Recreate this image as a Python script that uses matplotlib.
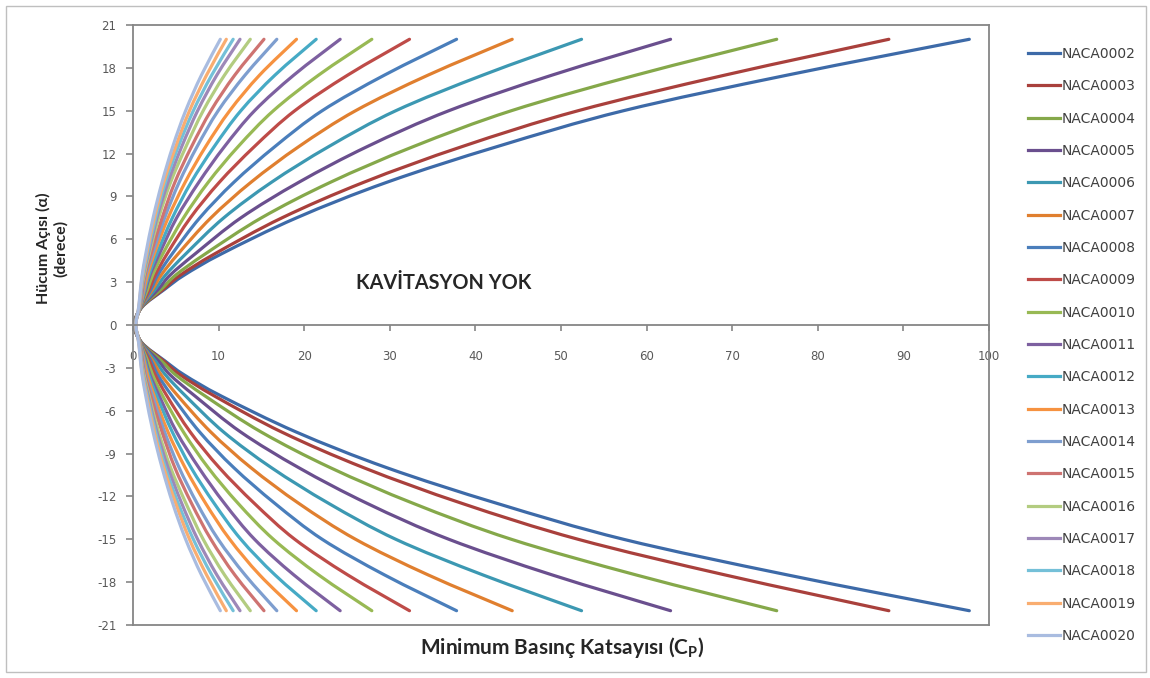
import numpy as np
import matplotlib.pyplot as plt
from matplotlib.lines import Line2D
from matplotlib.patches import PathPatch, Rectangle
from matplotlib.path import Path

plt.rcParams['axes.unicode_minus'] = False

# angle of attack levels (deg); curves are symmetric about alpha = 0
alpha = [0, 1.25, 2.5, 3.5, 5, 7.5, 10, 12.5, 15, 17.5, 20]

# minimum pressure coefficient at each alpha level
naca0002 = [0.15, 1.05, 3.7, 6.0, 10.4, 19.1, 29.7, 42.6, 57.3, 76.5, 97.7]
naca0003 = [0.16, 1.03, 3.55, 5.55, 9.6, 17.4, 27.0, 38.5, 52.0, 69.2, 88.3]
naca0004 = [0.17, 1.01, 3.3, 5.0, 8.5, 15.0, 23.1, 32.8, 44.2, 58.8, 75.2]
naca0005 = [0.18, 0.98, 2.95, 4.35, 7.3, 12.6, 19.4, 27.4, 36.9, 49.0, 62.8]
naca0006 = [0.19, 0.96, 2.6, 3.8, 6.2, 10.6, 16.2, 22.9, 30.7, 40.9, 52.4]
naca0007 = [0.20, 0.94, 2.3, 3.3, 5.3, 9.1, 13.8, 19.4, 26.0, 34.5, 44.3]
naca0008 = [0.21, 0.92, 2.1, 2.9, 4.6, 7.8, 11.8, 16.6, 22.1, 29.4, 37.8]
naca0009 = [0.22, 0.90, 1.9, 2.6, 4.0, 6.7, 10.1, 14.2, 18.9, 25.1, 32.3]
naca0010 = [0.23, 0.88, 1.7, 2.3, 3.5, 5.9, 8.8, 12.3, 16.4, 21.7, 27.9]
naca0011 = [0.25, 0.86, 1.5, 2.0, 3.1, 5.1, 7.7, 10.7, 14.2, 18.8, 24.2]
naca0012 = [0.26, 0.84, 1.4, 1.85, 2.8, 4.6, 6.8, 9.5, 12.6, 16.6, 21.4]
naca0013 = [0.27, 0.82, 1.3, 1.7, 2.5, 4.1, 6.1, 8.5, 11.3, 14.8, 19.1]
naca0014 = [0.28, 0.80, 1.2, 1.5, 2.3, 3.7, 5.4, 7.5, 9.95, 13.1, 16.8]
naca0015 = [0.29, 0.78, 1.1, 1.4, 2.1, 3.4, 4.9, 6.85, 9.1, 11.9, 15.3]
naca0016 = [0.30, 0.76, 1.0, 1.3, 1.9, 3.0, 4.4, 6.2, 8.2, 10.7, 13.7]
naca0017 = [0.31, 0.73, 0.97, 1.2, 1.8, 2.8, 4.1, 5.7, 7.55, 9.8, 12.5]
naca0018 = [0.32, 0.71, 0.94, 1.17, 1.7, 2.65, 3.8, 5.3, 7.05, 9.2, 11.7]
naca0019 = [0.34, 0.68, 0.90, 1.12, 1.6, 2.5, 3.6, 5.0, 6.6, 8.6, 10.9]
naca0020 = [0.35, 0.66, 0.87, 1.07, 1.5, 2.35, 3.4, 4.65, 6.15, 8.0, 10.2]

names = ['NACA0002', 'NACA0003', 'NACA0004', 'NACA0005', 'NACA0006',
         'NACA0007', 'NACA0008', 'NACA0009', 'NACA0010', 'NACA0011',
         'NACA0012', 'NACA0013', 'NACA0014', 'NACA0015', 'NACA0016',
         'NACA0017', 'NACA0018', 'NACA0019', 'NACA0020']
curves = [naca0002, naca0003, naca0004, naca0005, naca0006, naca0007,
          naca0008, naca0009, naca0010, naca0011, naca0012, naca0013,
          naca0014, naca0015, naca0016, naca0017, naca0018, naca0019,
          naca0020]
colors = ['#3D6AA8', '#A9403C', '#85A84A', '#6A4F8E', '#3C98B2', '#E07F2F',
          '#4A7EBB', '#BE4B48', '#98B954', '#7D60A0', '#46AAC5', '#F69240',
          '#7E9ECF', '#CE7371', '#B3CC80', '#9D88B8', '#74C0D8', '#F9AD70',
          '#A9BCE0']


def smooth_path(x, y):
    # smoothed line through the points (Catmull-Rom as cubic Bezier)
    pts = np.column_stack([x, y])
    n = len(pts)
    verts = [pts[0]]
    codes = [Path.MOVETO]
    for i in range(n - 1):
        p0 = pts[max(i - 1, 0)]
        p1 = pts[i]
        p2 = pts[i + 1]
        p3 = pts[min(i + 2, n - 1)]
        verts += [p1 + (p2 - p0) / 6, p2 - (p3 - p1) / 6, p2]
        codes += [Path.CURVE4] * 3
    return Path(verts, codes)


W, H = 1150, 678
fig = plt.figure(figsize=(W / 100, H / 100), dpi=100)
ax = fig.add_axes([133 / W, 1 - 625 / H, (989 - 133) / W, (625 - 25) / H])

handles = []
for name, cp, col in zip(names, curves, colors):
    x = cp[::-1] + cp[1:]
    y = [-a for a in alpha[::-1]] + alpha[1:]
    ax.add_patch(PathPatch(smooth_path(x, y), fill=False, edgecolor=col,
                           lw=2.3, capstyle='round', joinstyle='round'))
    handles.append(Line2D([], [], color=col, lw=2.3, label=name))

ax.set_xlim(0, 100)
ax.set_ylim(-21, 21)
ax.set_xticks(range(0, 101, 10))
ax.set_yticks(range(-21, 22, 3))

frame = '#868686'
for s in ['top', 'right', 'left', 'bottom']:
    ax.spines[s].set_color(frame)
    ax.spines[s].set_linewidth(1.3)
# x axis crosses at alpha = 0, keep the plot area border at the bottom
ax.spines['bottom'].set_position(('data', 0))
ax.axhline(-21, color=frame, lw=1.3, clip_on=False)

ax.tick_params(axis='x', direction='out', length=4, width=1.2, color=frame,
               labelsize=8.5, labelcolor='#595959', pad=14)
ax.tick_params(axis='y', direction='out', length=5, width=1.2, color=frame,
               labelsize=8.5, labelcolor='#595959', pad=7)

lab_font = ['Lato', 'DejaVu Sans']
fig.text(562 / W, 1 - 648 / H, 'Minimum Basınç Katsayısı (C$_\\mathregular{P}$)',
         ha='center', va='center', fontsize=15, fontweight='bold',
         family=lab_font, color='#262626')
fig.text(52 / W, 1 - 248 / H, 'Hücum Açısı (α)\n(derece)', rotation=90,
         ha='center', va='center', multialignment='center', fontsize=11.5,
         fontweight='bold', family=lab_font, color='#262626', linespacing=1.2)
fig.text(444 / W, 1 - 283 / H, 'KAVİTASYON YOK', ha='center', va='center',
         fontsize=14.3, fontweight='bold', family=lab_font, color='#262626')

leg = fig.legend(handles=handles, loc='upper left',
                 bbox_to_anchor=(1028 / W, 1 - 47 / H),
                 frameon=False, fontsize=10, handlelength=2.3,
                 handletextpad=0.15, labelspacing=1.32, borderpad=0,
                 borderaxespad=0)
for t in leg.get_texts():
    t.set_color('#404040')

fig.add_artist(Rectangle((6 / W, 6 / H), (1146 - 6) / W, (672 - 6) / H,
                         transform=fig.transFigure, fill=False,
                         ec='#BFBFBF', lw=1))

fig.savefig('out.png', dpi=100)
